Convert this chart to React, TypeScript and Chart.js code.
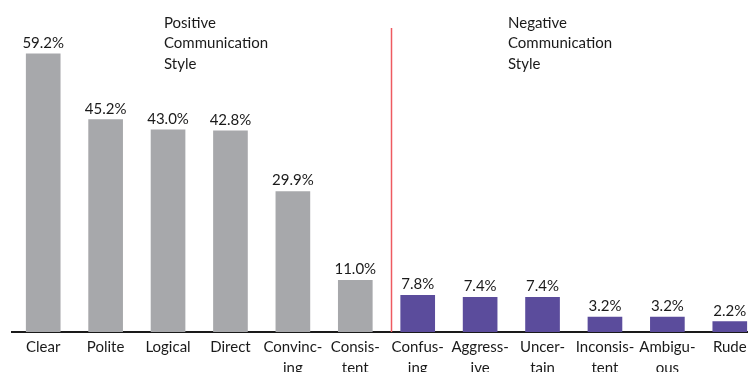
import React, { useEffect, useRef } from "react";
import { Chart, registerables } from "chart.js";

Chart.register(...registerables);

const categories: (string | string[])[] = [
  "Clear", "Polite", "Logical", "Direct", ["Convinc-", "ing"], ["Consis-", "tent"],
  ["Confus-", "ing"], ["Aggress-", "ive"], ["Uncer-", "tain"], ["Inconsis-", "tent"], ["Ambigu-", "ous"], "Rude",
];
const values = [59.2, 45.2, 43.0, 42.8, 29.9, 11.0, 7.8, 7.4, 7.4, 3.2, 3.2, 2.2];
const groupColors = ["#a7a8ab", "#a7a8ab", "#a7a8ab", "#a7a8ab", "#a7a8ab", "#a7a8ab",
  "#5b4c9c", "#5b4c9c", "#5b4c9c", "#5b4c9c", "#5b4c9c", "#5b4c9c"];
const positiveTitle = ["Positive", "Communication", "Style"];
const negativeTitle = ["Negative", "Communication", "Style"];

const FONT = "Lato, 'Open Sans', sans-serif";

const overlayPlugin = {
  id: "overlay",
  afterDatasetsDraw(chart: any) {
    const ctx = chart.ctx;
    const meta = chart.getDatasetMeta(0);
    const xs = chart.scales.x;
    const area = chart.chartArea;
    ctx.save();
    // value labels
    ctx.font = `15px ${FONT}`;
    ctx.fillStyle = "#1a1a1a";
    ctx.textAlign = "center";
    ctx.textBaseline = "alphabetic";
    meta.data.forEach((bar: any, i: number) => {
      ctx.fillText(values[i].toFixed(1) + "%", bar.x, bar.y - 6);
    });
    // divider line
    const dx = (xs.getPixelForValue(5) + xs.getPixelForValue(6)) / 2 + 5;
    ctx.strokeStyle = "#ee5a60";
    ctx.lineWidth = 1.5;
    ctx.beginPath();
    ctx.moveTo(dx, 28);
    ctx.lineTo(dx, area.bottom);
    ctx.stroke();
    // group titles
    ctx.textAlign = "left";
    ctx.fillStyle = "#1a1a1a";
    positiveTitle.forEach((t, i) => ctx.fillText(t, 164, 28 + i * 20.3));
    negativeTitle.forEach((t, i) => ctx.fillText(t, 508, 28 + i * 20.3));
    ctx.restore();
  },
};

export default function App() {
  const ref = useRef<HTMLCanvasElement>(null);
  useEffect(() => {
    if (!ref.current) return;
    const chart = new Chart(ref.current, {
      type: "bar",
      data: {
        labels: categories,
        datasets: [{ data: values, backgroundColor: groupColors, barThickness: 34 }],
      },
      options: {
        animation: false,
        responsive: true,
        maintainAspectRatio: false,
        layout: { padding: { left: 12, top: 3, right: 0, bottom: 0 } },
        plugins: { legend: { display: false }, tooltip: { enabled: false } },
        scales: {
          x: {
            grid: { display: false, drawTicks: false },
            border: { display: true, color: "#1a1a1a", width: 2 },
            ticks: {
              color: "#1a1a1a",
              font: { family: FONT, size: 15, lineHeight: 1.4 },
              padding: 5,
              maxRotation: 0,
              autoSkip: false,
            },
            afterFit: (scale: any) => { scale.height = 40; },
          },
          y: { display: false, min: 0, max: 70 },
        },
      },
      plugins: [overlayPlugin],
    });
    return () => chart.destroy();
  }, []);
  return (
    <div style={{ position: "fixed", left: 0, top: 0, width: 748, height: 372, overflow: "hidden", background: "#fff" }}>
      <div style={{ position: "absolute", left: 0, top: 0, width: 761, height: 372 }}>
        <canvas ref={ref} />
      </div>
    </div>
  );
}
